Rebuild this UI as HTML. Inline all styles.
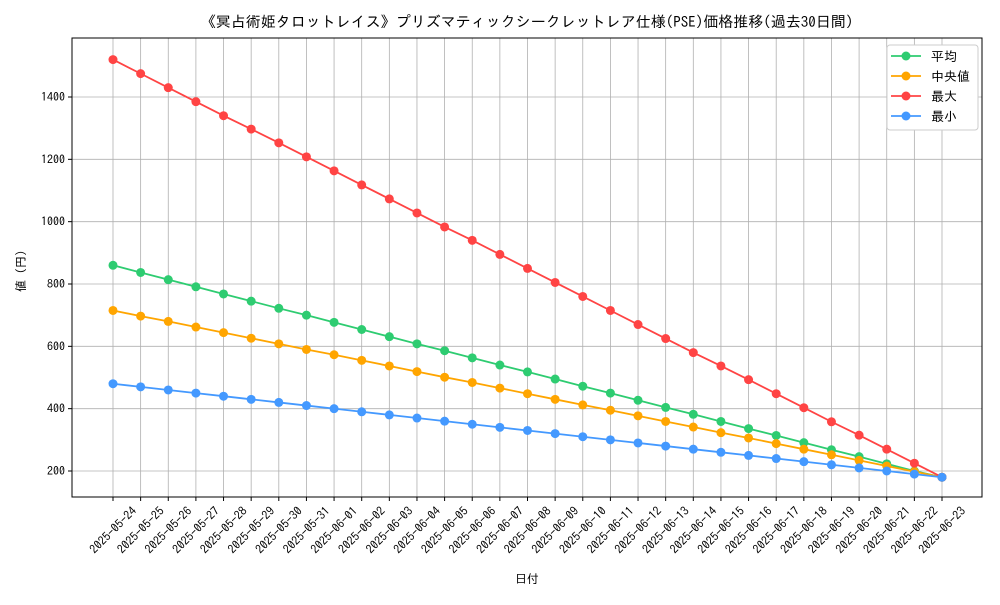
<!DOCTYPE html>
<html><head><meta charset="utf-8"><style>
body{margin:0;background:#fff}
svg text{font-family:"IPAGothic","Liberation Sans","Noto Sans CJK JP",sans-serif;fill:#000}
</style></head><body>
<svg id="c" width="1000" height="600"></svg>
<script>
const dates=["2025-05-24","2025-05-25","2025-05-26","2025-05-27","2025-05-28","2025-05-29","2025-05-30","2025-05-31","2025-06-01","2025-06-02","2025-06-03","2025-06-04","2025-06-05","2025-06-06","2025-06-07","2025-06-08","2025-06-09","2025-06-10","2025-06-11","2025-06-12","2025-06-13","2025-06-14","2025-06-15","2025-06-16","2025-06-17","2025-06-18","2025-06-19","2025-06-20","2025-06-21","2025-06-22","2025-06-23"];
const meanVals=[860,837,814,791,768,745,722,700,677,654,631,608,586,563,540,518,495,472,450,427,404,382,359,336,314,291,268,246,223,200,180];
const medianVals=[715,697,680,662,644,626,608,590,573,555,537,519,501,484,466,448,430,412,395,377,359,341,323,306,288,270,252,234,216,198,180];
const maxVals=[1520,1475,1430,1385,1340,1297,1253,1208,1163,1118,1073,1028,983,940,895,850,805,760,715,670,625,580,537,493,448,403,358,315,270,225,180];
const minVals=[480,470,460,450,440,430,420,410,400,390,380,370,360,350,340,330,320,310,300,290,280,270,260,250,240,230,220,210,200,190,180];
const yTicks=[200,400,600,800,1000,1200,1400];
const seriesNames=["平均","中央値","最大","最小"];
const NS="http://www.w3.org/2000/svg",svg=document.getElementById('c');
const L=72,R=982,T=38,B=497;
const x=i=>113+i*(942-113)/(dates.length-1);
const y=v=>471-(v-200)*(374/1200);
function mk(t,a,p){const e=document.createElementNS(NS,t);for(const k in a)e.setAttribute(k,a[k]);(p||svg).appendChild(e);return e;}
const grid=mk('g',{});
dates.forEach((d,i)=>{mk('line',{x1:x(i),x2:x(i),y1:T,y2:B,stroke:'#b0b0b0','stroke-width':0.8},grid);});
yTicks.forEach(v=>{mk('line',{x1:L,x2:R,y1:y(v),y2:y(v),stroke:'#b0b0b0','stroke-width':0.8},grid);});
const frame=mk('rect',{x:L,y:T,width:R-L,height:B-T,fill:'none',stroke:'#000','stroke-width':1});

yTicks.forEach(v=>{mk('line',{x1:L-4,x2:L,y1:y(v),y2:y(v),stroke:'#000'});
 const t=mk('text',{x:L-7,y:y(v)+4,'text-anchor':'end','font-size':12});t.textContent=v;
 });
dates.forEach((d,i)=>{mk('line',{x1:x(i),x2:x(i),y1:B,y2:B+4,stroke:'#000'});
 const t=mk('text',{transform:`translate(${x(i)+3},${B+36}) rotate(-45)`,'text-anchor':'middle','font-size':12});t.textContent=d;
 });
const all=[meanVals,medianVals,maxVals,minVals],cols=['#2ecc71','#ffa500','#ff4444','#4499ff'],snames=['mean','median','max','min'];
all.forEach((vals,s)=>{const g=mk('g',{});
 mk('polyline',{points:vals.map((v,i)=>x(i)+','+y(v)).join(' '),fill:'none',stroke:cols[s],'stroke-width':1.8},g);
 vals.forEach((v,i)=>{const c=mk('circle',{cx:x(i),cy:y(v),r:4.5,fill:cols[s]},g);});});
const lg=mk('g',{});
mk('rect',{x:887,y:45,width:91,height:85,rx:3,fill:'#fff',stroke:'#ccc'},lg);
seriesNames.forEach((n,s)=>{const yy=56+s*20;const e=mk('g',{},lg);
 mk('line',{x1:891,x2:921,y1:yy,y2:yy,stroke:cols[s],'stroke-width':1.8},e);mk('circle',{cx:906,cy:yy,r:4.5,fill:cols[s]},e);
 const t=mk('text',{x:931,y:yy+5,'font-size':13},e);t.textContent=(s==1?' ':'')+n;});
let t=mk('text',{x:527,y:27,'text-anchor':'middle','font-size':15});t.textContent='《冥占術姫タロットレイス》プリズマティックシークレットレア仕様(PSE)価格推移(過去30日間)';

t=mk('text',{x:527,y:583,'text-anchor':'middle','font-size':12});t.textContent='日付';

t=mk('text',{transform:'translate(25,268) rotate(-90)','text-anchor':'middle','font-size':12});t.textContent='値（円）';

</script>
</body></html>
